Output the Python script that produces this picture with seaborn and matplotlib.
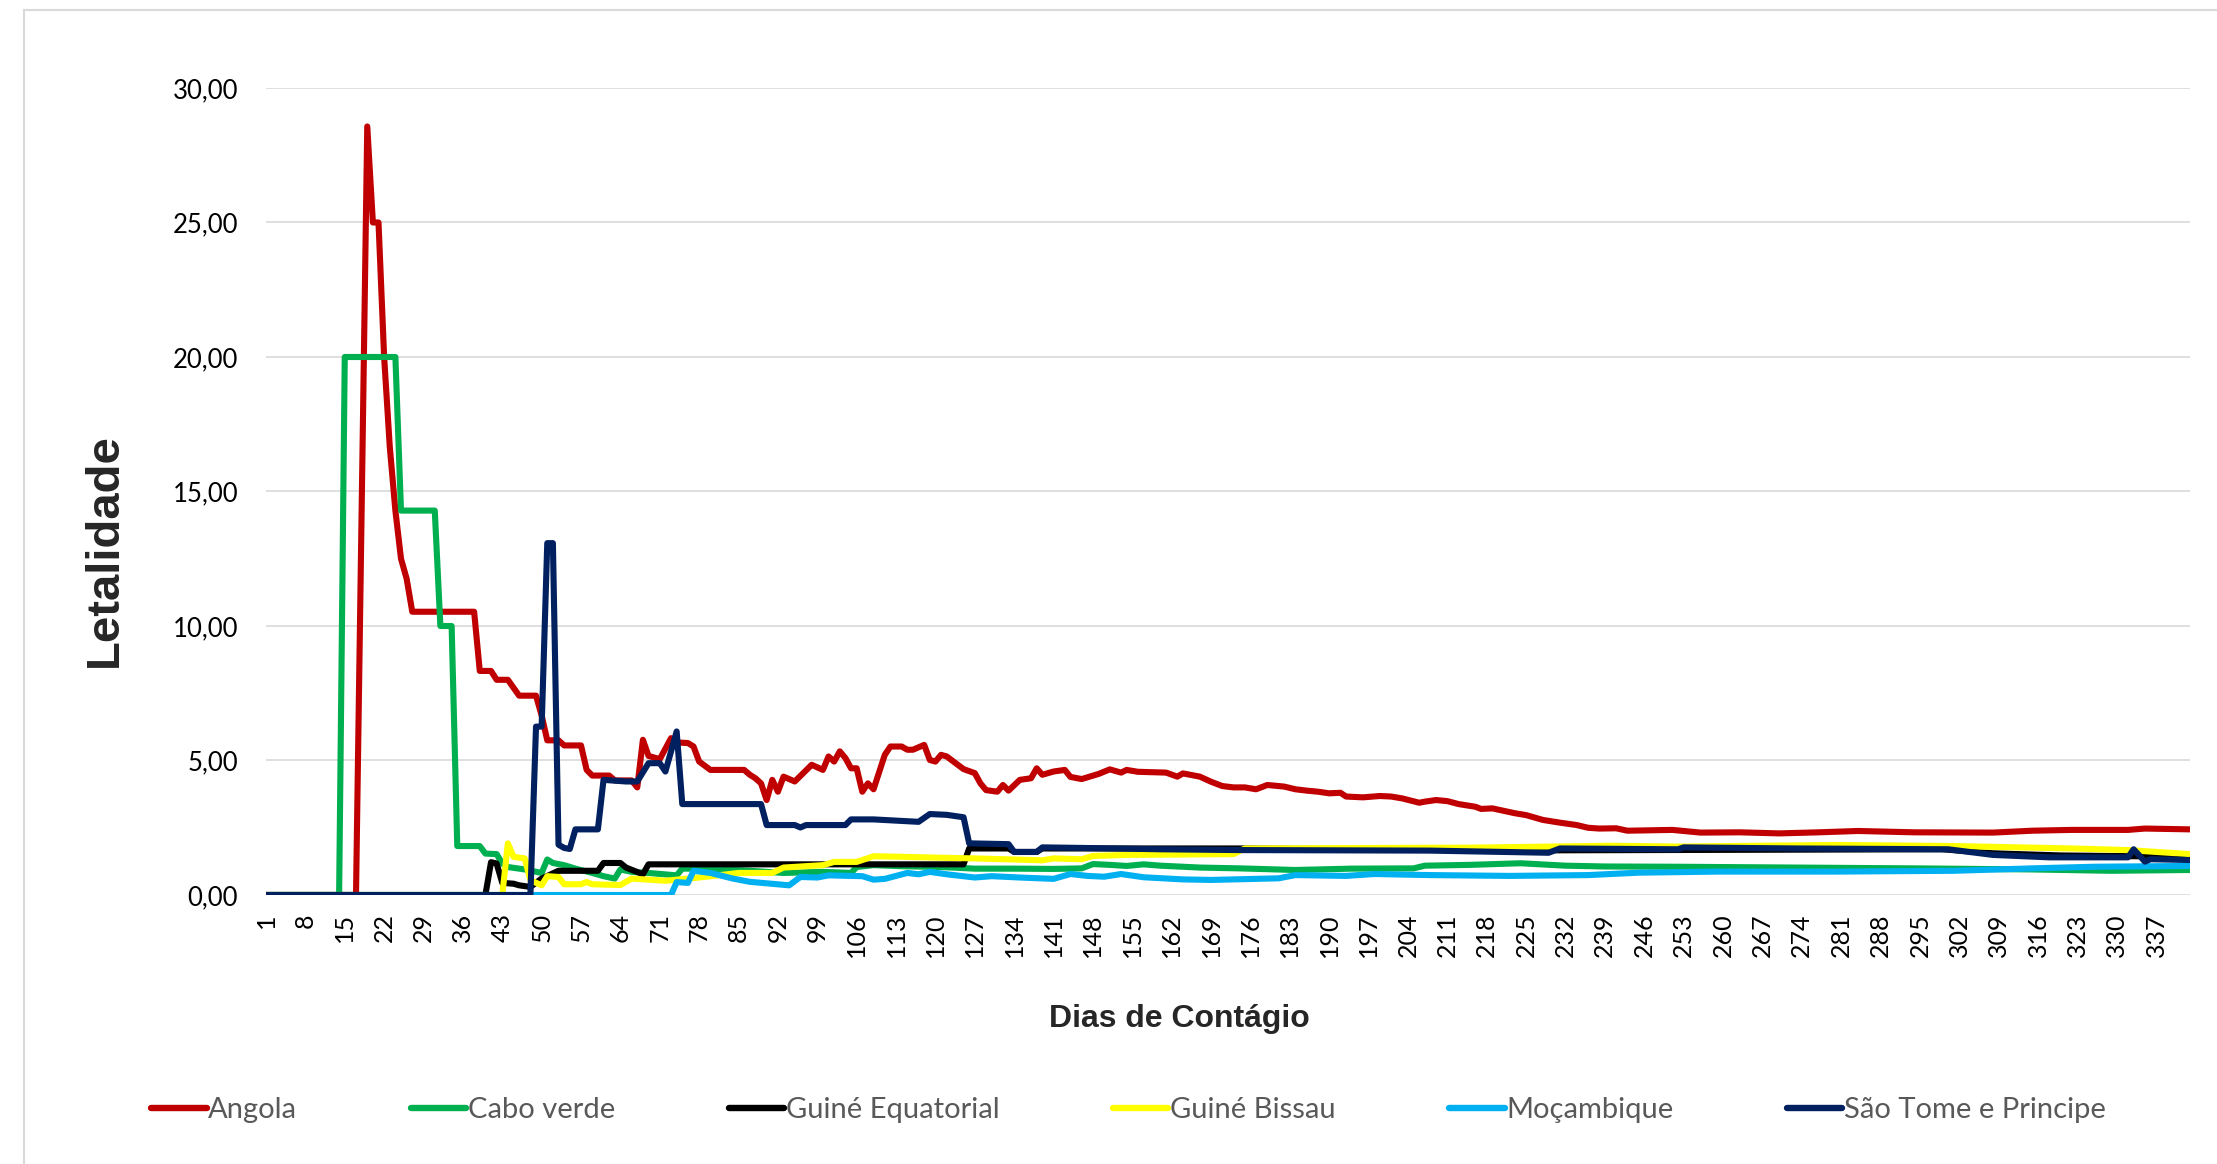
import pandas as pd
import seaborn as sns
import matplotlib.pyplot as plt
from matplotlib.lines import Line2D
from matplotlib.ticker import FuncFormatter

# Letalidade por dia de contágio
countries = ["Angola", "Cabo verde", "Guiné Equatorial", "Guiné Bissau", "Moçambique", "São Tome e Principe"]
colors = ["#C00000", "#00B050", "#000000", "#FFFF00", "#00B0F0", "#002060"]

angola_days = [1, 17, 18, 19, 20, 21, 22, 23, 24, 25, 26, 27, 38, 39, 41, 42, 44, 46, 49, 50, 51, 53, 54, 57,
               58, 59, 62, 63, 66, 67, 68, 69, 71, 73, 74, 76, 77, 78, 80, 86, 87, 88, 89, 90, 91, 92, 93,
               95, 98, 100, 101, 102, 103, 104, 105, 106, 107, 108, 109, 111, 112, 114, 115, 116, 118, 119,
               120, 121, 122, 124, 125, 127, 128, 129, 131, 132, 133, 135, 137, 138, 139, 141, 143, 144, 146,
               149, 151, 153, 154, 156, 161, 163, 164, 167, 169, 171, 173, 175, 177, 179, 182, 184, 186,
               188, 190, 192, 193, 196, 199, 201, 203, 206, 207, 209, 211, 213, 216, 217, 219, 223, 225,
               228, 231, 234, 236, 238, 241, 243, 251, 256, 263, 270, 277, 284, 294, 308, 315, 322, 332,
               335, 343]
angola_vals = [0, 0, 14.29, 28.57, 25.0, 25.0, 20.0, 16.67, 14.29, 12.5, 11.76, 10.53, 10.53, 8.33, 8.33,
               8.0, 8.0, 7.41, 7.41, 6.67, 5.75, 5.75, 5.56, 5.56, 4.65, 4.44, 4.44, 4.26, 4.26, 4.0, 5.77,
               5.17, 5.05, 5.83, 5.67, 5.65, 5.52, 4.96, 4.65, 4.65, 4.47, 4.34, 4.15, 3.53, 4.28, 3.84,
               4.40, 4.22, 4.84, 4.65, 5.15, 4.96, 5.34, 5.09, 4.71, 4.71, 3.84, 4.15, 3.93, 5.21, 5.52,
               5.52, 5.40, 5.40, 5.58, 5.02, 4.96, 5.21, 5.15, 4.84, 4.68, 4.53, 4.15, 3.90, 3.84, 4.09,
               3.88, 4.28, 4.34, 4.71, 4.47, 4.59, 4.65, 4.39, 4.31, 4.50, 4.67, 4.55, 4.65, 4.58, 4.55,
               4.40, 4.52, 4.40, 4.21, 4.05, 4.0, 4.0, 3.93, 4.09, 4.03, 3.93, 3.88, 3.84, 3.78, 3.80,
               3.66, 3.63, 3.68, 3.66, 3.59, 3.43, 3.47, 3.53, 3.49, 3.38, 3.28, 3.20, 3.22, 3.04, 2.97,
               2.79, 2.69, 2.60, 2.50, 2.47, 2.48, 2.39, 2.42, 2.32, 2.33, 2.29, 2.33, 2.38, 2.33, 2.32,
               2.39, 2.42, 2.42, 2.47, 2.44]

caboverde_days = [1, 14, 15, 24, 25, 31, 32, 34, 35, 39, 40, 42, 43, 44, 47, 50, 51, 52, 54, 56, 59, 61, 63,
                  64, 66, 69, 74, 75, 80, 83, 87, 93, 100, 105, 106, 109, 114, 121, 127, 134, 141, 146, 148,
                  151, 154, 157, 160, 167, 174, 184, 194, 205, 207, 215, 224, 232, 239, 252, 273, 294, 315,
                  329, 343]
caboverde_vals = [0, 0, 20.0, 20.0, 14.29, 14.29, 10.0, 10.0, 1.82, 1.82, 1.54, 1.52, 1.17, 1.04, 0.95, 0.82,
                  1.32, 1.19, 1.11, 0.98, 0.82, 0.70, 0.61, 0.95, 0.86, 0.82, 0.73, 0.98, 0.98, 0.95, 0.90,
                  0.82, 0.86, 0.82, 1.04, 1.11, 1.07, 1.04, 0.98, 0.98, 0.97, 0.99, 1.15, 1.12, 1.08, 1.14,
                  1.09, 1.02, 0.99, 0.93, 0.98, 0.99, 1.09, 1.12, 1.18, 1.09, 1.06, 1.05, 1.02, 0.99, 0.95,
                  0.90, 0.93]

guineeq_days = [1, 40, 41, 42, 43, 45, 46, 48, 50, 53, 60, 61, 64, 65, 68, 69, 125, 126, 133, 134, 138, 139,
                174, 228, 299, 308, 320, 343]
guineeq_vals = [0, 0, 1.22, 1.17, 0.45, 0.42, 0.36, 0.30, 0.61, 0.90, 0.90, 1.19, 1.19, 1.02, 0.77, 1.14,
                1.14, 1.73, 1.73, 1.60, 1.60, 1.73, 1.73, 1.66, 1.70, 1.55, 1.47, 1.42]

guinebissau_days = [1, 43, 44, 45, 47, 48, 50, 51, 53, 54, 57, 58, 59, 64, 66, 72, 78, 83, 85, 91, 93, 100,
                    102, 106, 109, 114, 120, 127, 139, 141, 146, 148, 154, 173, 175, 215, 240, 252, 280,
                    301, 322, 332, 343]
guinebissau_vals = [0, 0, 1.92, 1.42, 1.36, 0.55, 0.36, 0.70, 0.67, 0.40, 0.40, 0.48, 0.40, 0.37, 0.61,
                    0.53, 0.65, 0.77, 0.82, 0.82, 1.02, 1.11, 1.23, 1.23, 1.44, 1.42, 1.39, 1.36, 1.29,
                    1.36, 1.33, 1.45, 1.49, 1.52, 1.73, 1.76, 1.83, 1.80, 1.86, 1.82, 1.73, 1.67, 1.52]

mocambique_days = [1, 73, 74, 76, 77, 80, 84, 87, 94, 96, 99, 101, 107, 109, 111, 115, 117, 119, 122, 127,
                   130, 135, 141, 144, 147, 150, 153, 157, 164, 169, 173, 181, 184, 193, 198, 208, 222,
                   236, 245, 259, 280, 301, 315, 326, 343]
mocambique_vals = [0, 0, 0.48, 0.45, 0.90, 0.82, 0.61, 0.49, 0.36, 0.67, 0.65, 0.73, 0.70, 0.57, 0.60,
                   0.82, 0.77, 0.86, 0.77, 0.65, 0.70, 0.65, 0.60, 0.78, 0.71, 0.68, 0.78, 0.66, 0.58,
                   0.56, 0.58, 0.62, 0.74, 0.71, 0.78, 0.74, 0.71, 0.74, 0.83, 0.87, 0.87, 0.90, 0.99,
                   1.05, 1.08]

saotome_days = [1, 48, 49, 50, 51, 52, 53, 54, 55, 56, 60, 61, 65, 67, 69, 71, 72, 74, 75, 89, 90, 95, 96,
                97, 104, 105, 109, 117, 119, 122, 125, 126, 133, 134, 138, 139, 146, 160, 174, 208, 229,
                231, 252, 253, 273, 300, 308, 318, 332, 333, 335, 336, 343]
saotome_vals = [0, 0, 6.26, 6.26, 13.08, 13.08, 1.87, 1.75, 1.71, 2.44, 2.44, 4.28, 4.22, 4.22, 4.90, 4.90,
                4.59, 6.08, 3.38, 3.38, 2.60, 2.60, 2.51, 2.60, 2.60, 2.81, 2.81, 2.72, 3.01, 2.98, 2.89,
                1.92, 1.89, 1.60, 1.60, 1.77, 1.75, 1.70, 1.67, 1.65, 1.57, 1.73, 1.70, 1.77, 1.73, 1.70,
                1.49, 1.40, 1.40, 1.70, 1.24, 1.33, 1.30]

series = [(angola_days, angola_vals), (caboverde_days, caboverde_vals), (guineeq_days, guineeq_vals),
          (guinebissau_days, guinebissau_vals), (mocambique_days, mocambique_vals),
          (saotome_days, saotome_vals)]

frames = []
for name, (d, v) in zip(countries, series):
    frames.append(pd.DataFrame({"Dia": d, "Letalidade": v, "País": name}))
df = pd.concat(frames, ignore_index=True)

x_ticks = list(range(1, 338, 7))

sns.set_style("white")
plt.rcParams["font.family"] = ["Lato", "DejaVu Sans"]

fig = plt.figure(figsize=(22.17, 11.64), dpi=100)
ax = fig.add_axes([0.11998, 0.2311, 0.8678, 0.6933])

sns.lineplot(data=df, x="Dia", y="Letalidade", hue="País", hue_order=countries,
             palette=dict(zip(countries, colors)), estimator=None, sort=False,
             linewidth=4.4, ax=ax, legend=False)
for ln in ax.get_lines():
    ln.set_solid_joinstyle("round")
    ln.set_solid_capstyle("round")

ax.set_xlim(1, 343)
ax.set_ylim(0, 30)
ax.set_yticks([0, 5, 10, 15, 20, 25, 30])
ax.yaxis.set_major_formatter(FuncFormatter(lambda v, p: f"{v:.2f}".replace(".", ",")))
ax.set_xticks(x_ticks)
ax.set_xticklabels([str(t) for t in x_ticks], rotation=90)
ax.tick_params(axis="y", length=0, pad=20, labelsize=18.5, labelcolor="black")
ax.tick_params(axis="x", length=0, pad=13, labelsize=18, labelcolor="black")
ax.grid(axis="y", color="#D9D9D9", linewidth=1.2)
ax.grid(axis="x", visible=False)
ax.set_axisbelow(True)
for s in ax.spines.values():
    s.set_visible(False)

ax.set_xlabel("Dias de Contágio", fontsize=23, fontweight="bold", family="Liberation Sans")
ax.xaxis.set_label_coords(0.4745, -0.1535)
ax.xaxis.label.set_verticalalignment("center")
ax.set_ylabel("Letalidade", fontsize=34, fontweight="bold", family="Liberation Sans")
ax.yaxis.set_label_coords(-0.0837, 0.4275)
ax.yaxis.label.set_verticalalignment("center")

handles = [Line2D([0], [0], color=c, linewidth=4.6, solid_capstyle="round") for c in colors]
leg = fig.legend(handles, countries, loc="center", bbox_to_anchor=(0.509, 0.046), ncol=6,
                 frameon=False, fontsize=21, handlelength=1.9, handletextpad=0.05,
                 columnspacing=3.9)
for t in leg.get_texts():
    t.set_color("#595959")

# moldura do gráfico
x0, ytop = 24 / 2217, 1 - 10 / 1164
fig.add_artist(Line2D([x0, x0], [0, ytop], transform=fig.transFigure, color="#D9D9D9", linewidth=1.5))
fig.add_artist(Line2D([x0, 1], [ytop, ytop], transform=fig.transFigure, color="#D9D9D9", linewidth=1.5))

fig.savefig("out.png", dpi=100, facecolor="white")
